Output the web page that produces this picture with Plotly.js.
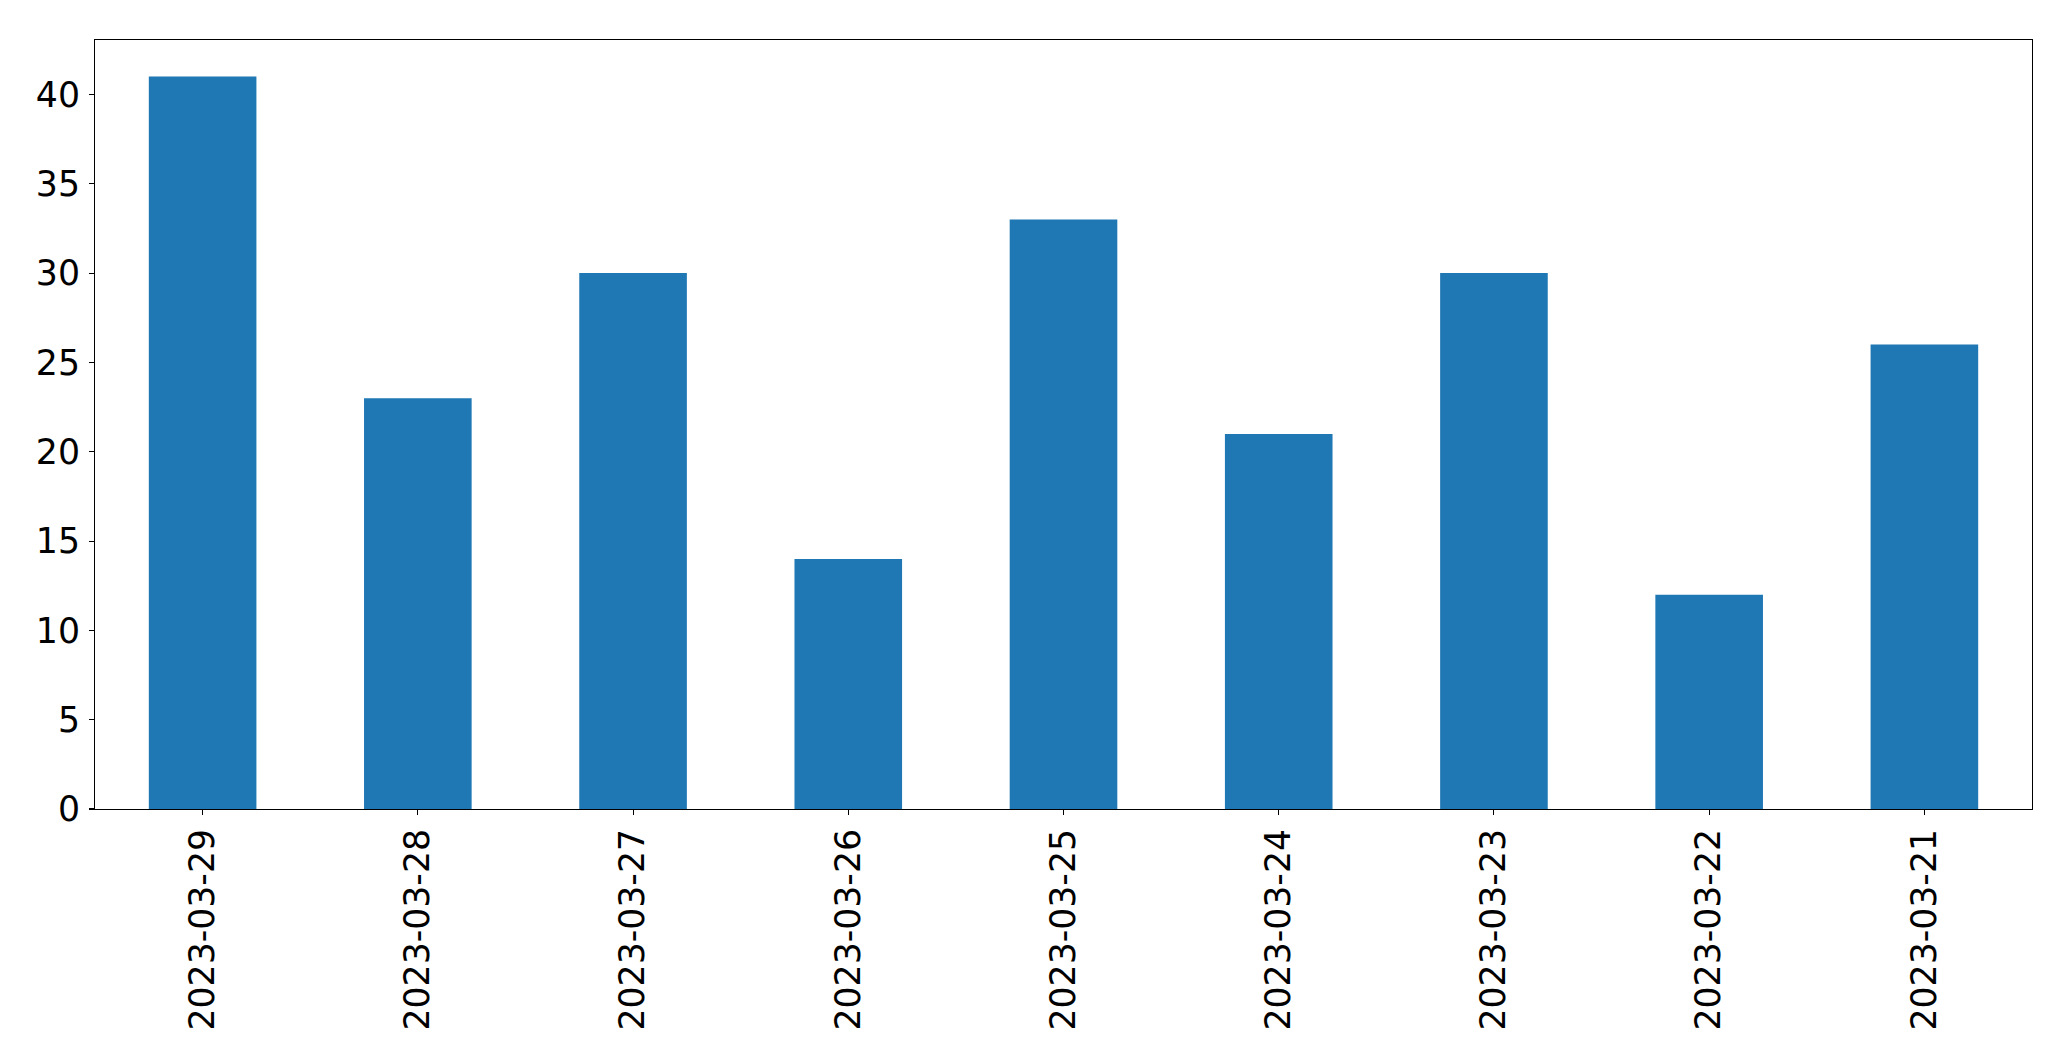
<!DOCTYPE html>
<html>
<head>
<meta charset="utf-8">
<script src="https://cdn.plot.ly/plotly-3.0.1.min.js"></script>
<style>html,body{margin:0;padding:0;background:#fff;}#chart{width:2071px;height:1061px;}</style>
</head>
<body>
<div id="chart"></div>
<script>
const categories = ["2023-03-29","2023-03-28","2023-03-27","2023-03-26","2023-03-25","2023-03-24","2023-03-23","2023-03-22","2023-03-21"];
const values = [41, 23, 30, 14, 33, 21, 30, 12, 26];
const yTicks = [0, 5, 10, 15, 20, 25, 30, 35, 40];

const trace = {
  type: 'bar',
  x: categories,
  y: values,
  width: 0.5,
  marker: {color: '#1f77b4', line: {width: 0}},
  hoverinfo: 'x+y'
};

const font = {family: 'DejaVu Sans, sans-serif', size: 34.7, color: '#000'};

const layout = {
  width: 2071,
  height: 1061,
  margin: {l: 94.5, r: 39.3, t: 39.5, b: 252},
  paper_bgcolor: '#fff',
  plot_bgcolor: '#fff',
  showlegend: false,
  font: font,
  xaxis: {
    type: 'category',
    range: [-0.5, 8.5],
    tickangle: -90,
    ticks: 'outside',
    ticklen: 5,
    tickwidth: 1.1,
    tickcolor: '#000',
    showline: true,
    linecolor: '#000',
    linewidth: 1.1,
    mirror: true,
    showgrid: false,
    zeroline: false,
    tickfont: font,
    ticklabelstandoff: 0
  },
  yaxis: {
    range: [0, 43.05],
    tickmode: 'array',
    tickvals: yTicks,
    ticktext: yTicks.map(String),
    ticks: 'outside',
    ticklen: 5,
    tickwidth: 1.1,
    tickcolor: '#000',
    showline: true,
    linecolor: '#000',
    linewidth: 1.1,
    mirror: true,
    showgrid: false,
    zeroline: false,
    tickfont: font,
    ticklabelstandoff: 2
  }
};

Plotly.newPlot('chart', [trace], layout, {staticPlot: true, displayModeBar: false});
</script>
</body>
</html>
